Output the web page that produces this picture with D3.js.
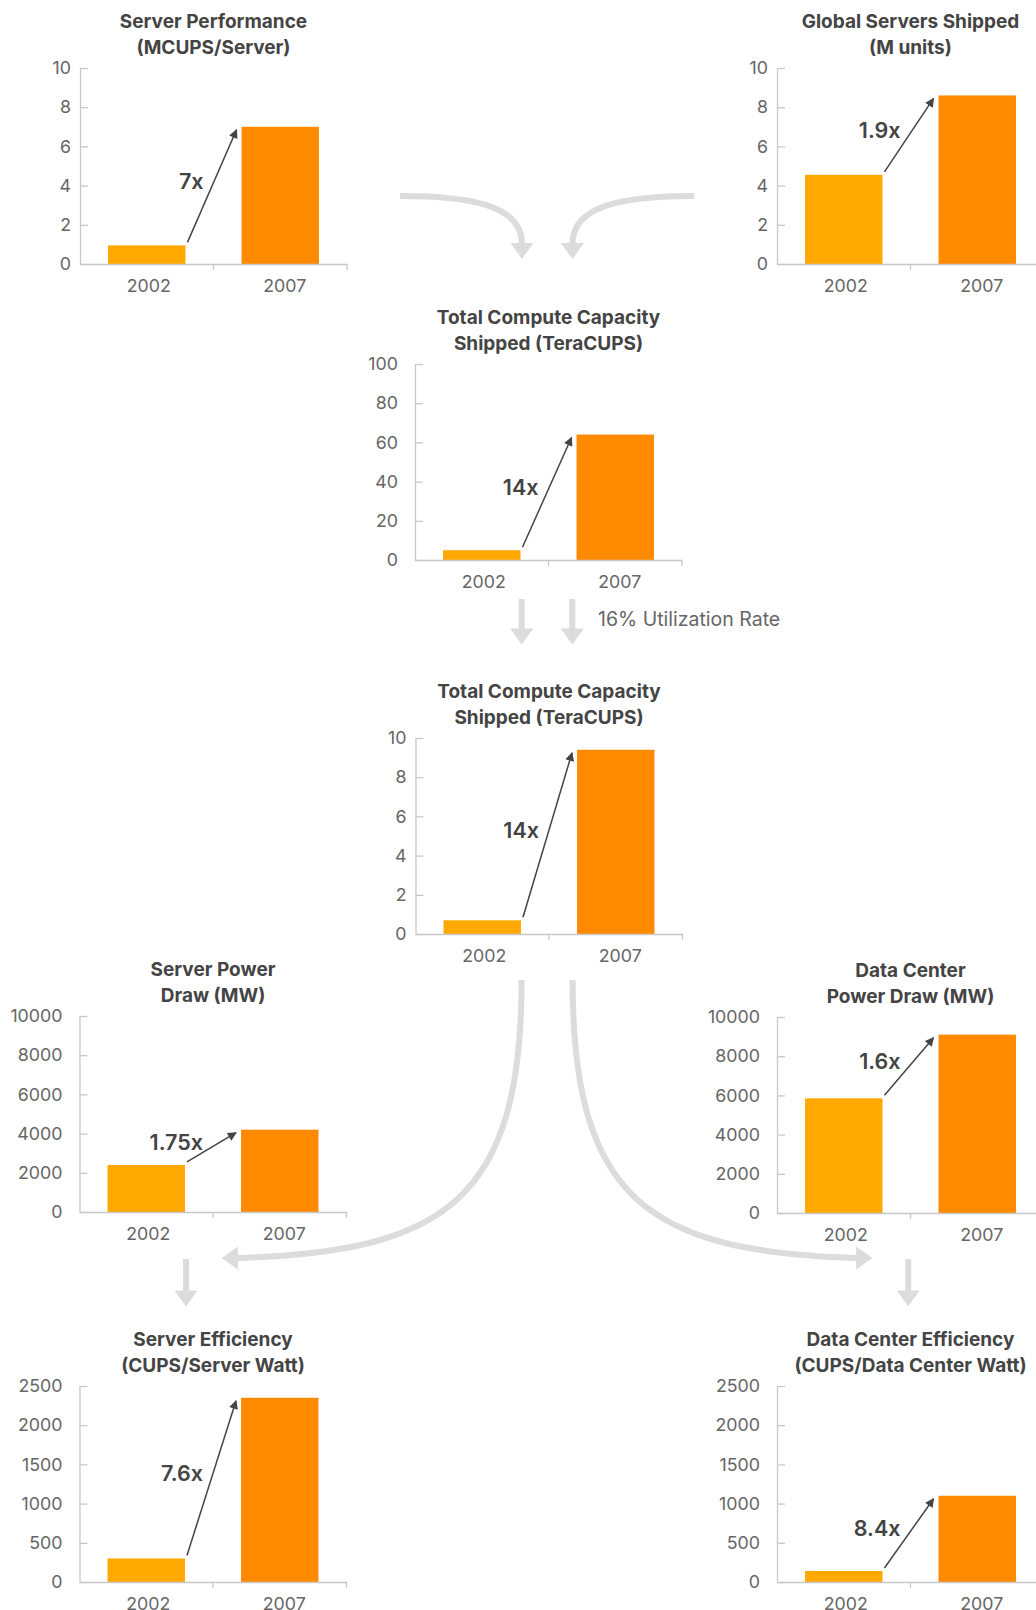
<!DOCTYPE html>
<html>
<head>
<meta charset="utf-8">
<script src="https://cdn.jsdelivr.net/npm/d3@7"></script>
<style>
  body { margin: 0; background: #fff; }
  svg text { font-family: Inter, "Open Sans", sans-serif; }
</style>
</head>
<body>
<div id="chart"></div>
<script>
const years = ["2002", "2007"];

const serverPerformance = [0.95, 7];
const serversShipped = [4.55, 8.6];
const computeShipped = [5, 64];
const computeUtilized = [0.7, 9.4];
const serverPower = [2400, 4200];
const dataCenterPower = [5850, 9100];
const serverEfficiency = [300, 2350];
const dataCenterEfficiency = [140, 1100];

const seriesList = [
  serverPerformance, serversShipped, computeShipped, computeUtilized,
  serverPower, dataCenterPower, serverEfficiency, dataCenterEfficiency
];
const yMax = [10, 10, 100, 10, 10000, 10000, 2500, 2500];
const ratios = ["7x", "1.9x", "14x", "14x", "1.75x", "1.6x", "7.6x", "8.4x"];
const titles = [
  ["Server Performance", "(MCUPS/Server)"],
  ["Global Servers Shipped", "(M units)"],
  ["Total Compute Capacity", "Shipped (TeraCUPS)"],
  ["Total Compute Capacity", "Shipped (TeraCUPS)"],
  ["Server Power", "Draw (MW)"],
  ["Data Center", "Power Draw (MW)"],
  ["Server Efficiency", "(CUPS/Server Watt)"],
  ["Data Center Efficiency", "(CUPS/Data Center Watt)"]
];

// where each small chart sits on the page
const layout = [
  { left: 80, top: 68, pad: 9 },
  { left: 777, top: 68, pad: 9 },
  { left: 415, top: 364, pad: 17 },
  { left: 415.5, top: 738, pad: 9 },
  { left: 79.5, top: 1016, pad: 17 },
  { left: 777, top: 1017, pad: 17 },
  { left: 79.5, top: 1386, pad: 17 },
  { left: 777, top: 1386, pad: 17 }
];

const width = 1036;
const height = 1610;
const w = 267;
const h = 196;
const colors = ["#ffa800", "#ff8a00"];
const axisColor = "#c8c8c8";
const flowColor = "#dcdcdc";

const svg = d3
  .select("#chart")
  .append("svg")
  .attr("width", width)
  .attr("height", height);

svg
  .append("defs")
  .append("marker")
  .attr("id", "head")
  .attr("viewBox", "0 0 10 10")
  .attr("refX", 9)
  .attr("refY", 5)
  .attr("markerWidth", 11)
  .attr("markerHeight", 9)
  .attr("markerUnits", "userSpaceOnUse")
  .attr("orient", "auto")
  .append("path")
  .attr("d", "M0,0L10,5L0,10Z")
  .attr("fill", "#444");

// grey flow arrows between the charts
const flow = svg.append("g");

function headDown(g, cx, baseY) {
  g.append("path")
    .attr("d", `M${cx - 11.5},${baseY}L${cx + 11.5},${baseY}L${cx},${baseY + 16}Z`)
    .attr("fill", flowColor);
}

function curveTop(g) {
  g.append("path")
    .attr("d", "M400,196C470,196 522,205 522,244")
    .attr("fill", "none")
    .attr("stroke", flowColor)
    .attr("stroke-width", 6);
  headDown(g, 522, 243);
}

function curveBottom(g) {
  g.append("path")
    .attr("d", "M521.6,980C521.6,1200 445,1252 237,1258")
    .attr("fill", "none")
    .attr("stroke", flowColor)
    .attr("stroke-width", 6);
  g.append("path")
    .attr("d", "M238,1246.5L238,1269.5L221.7,1258Z")
    .attr("fill", flowColor);
  g.append("rect")
    .attr("x", 183)
    .attr("y", 1259)
    .attr("width", 6)
    .attr("height", 32)
    .attr("fill", flowColor);
  headDown(g, 186, 1290.5);
}

curveTop(flow.append("g"));
curveTop(flow.append("g").attr("transform", "translate(1094.4,0) scale(-1,1)"));
curveBottom(flow.append("g"));
curveBottom(flow.append("g").attr("transform", "translate(1094.2,0) scale(-1,1)"));

[521.7, 572.3].forEach((cx) => {
  flow
    .append("rect")
    .attr("x", cx - 3)
    .attr("y", 599)
    .attr("width", 6)
    .attr("height", 30)
    .attr("fill", flowColor);
  headDown(flow, cx, 628.5);
});

svg
  .append("text")
  .attr("x", 598)
  .attr("y", 618.5)
  .attr("dominant-baseline", "central")
  .attr("font-size", 19.5)
  .attr("fill", "#666")
  .text("16% Utilization Rate");

// the eight bar charts
seriesList.forEach((values, k) => {
  const pos = layout[k];
  const g = svg
    .append("g")
    .attr("transform", `translate(${pos.left},${pos.top})`);

  const x = d3
    .scaleBand()
    .domain(years)
    .range([0, w])
    .paddingInner(0.42)
    .paddingOuter(0.21);

  const y = d3.scaleLinear().domain([0, yMax[k]]).range([h, 0]);

  // title
  g.append("text")
    .attr("x", w / 2)
    .attr("text-anchor", "middle")
    .attr("font-size", 19)
    .attr("font-weight", 700)
    .attr("fill", "#444")
    .selectAll("tspan")
    .data(titles[k])
    .join("tspan")
    .attr("x", w / 2)
    .attr("y", (d, i) => (i === 0 ? -47 : -21))
    .attr("dominant-baseline", "central")
    .text((d) => d);

  // Y axis
  const yAxis = g
    .append("g")
    .call(
      d3
        .axisLeft(y)
        .ticks(5)
        .tickSize(-8)
        .tickSizeOuter(0)
        .tickPadding(pos.pad)
        .tickFormat(d3.format("d"))
    );
  yAxis.select(".domain").attr("stroke", axisColor).attr("stroke-width", 1.3);
  yAxis.selectAll(".tick line").attr("stroke", axisColor).attr("stroke-width", 1.3);
  yAxis.selectAll(".tick text").attr("fill", "#666").attr("font-size", 17.8);

  // bars
  g.selectAll("rect")
    .data(values)
    .join("rect")
    .attr("x", (d, i) => x(years[i]))
    .attr("y", (d) => y(d))
    .attr("width", x.bandwidth())
    .attr("height", (d) => h - y(d))
    .attr("fill", (d, i) => colors[i]);

  // X axis, ticks sit on the slot boundaries
  const xAxis = g
    .append("g")
    .attr("transform", `translate(0,${h})`)
    .call(d3.axisBottom(x).tickSize(0).tickSizeOuter(0).tickPadding(15));
  xAxis.select(".domain").attr("stroke", axisColor).attr("stroke-width", 1.3);
  xAxis
    .selectAll(".tick text")
    .attr("fill", "#666")
    .attr("font-size", 17.8)
    .attr("dx", (d, i) => 2 + 2.5 * i);
  xAxis
    .selectAll(".bound")
    .data(d3.range(1, years.length + 1))
    .join("line")
    .attr("class", "bound")
    .attr("x1", (i) => i * x.step())
    .attr("x2", (i) => i * x.step())
    .attr("y1", 0)
    .attr("y2", 6)
    .attr("stroke", axisColor)
    .attr("stroke-width", 1.3);

  // growth arrow and label
  const x1 = x(years[0]) + x.bandwidth() + 2;
  const y1 = y(values[0]) - 3;
  const x2 = x(years[1]) - 5;
  const y2 = y(values[1]) + 3;

  g.append("line")
    .attr("x1", x1)
    .attr("y1", y1)
    .attr("x2", x2)
    .attr("y2", y2)
    .attr("stroke", "#444")
    .attr("stroke-width", 1.5)
    .attr("marker-end", "url(#head)");

  g.append("text")
    .attr("x", (x1 + x2) / 2 - 8.5)
    .attr("y", (y1 + y2) / 2 - 5)
    .attr("text-anchor", "end")
    .attr("dominant-baseline", "central")
    .attr("font-size", 21.5)
    .attr("font-weight", 600)
    .attr("fill", "#444")
    .text(ratios[k]);
});
</script>
</body>
</html>
